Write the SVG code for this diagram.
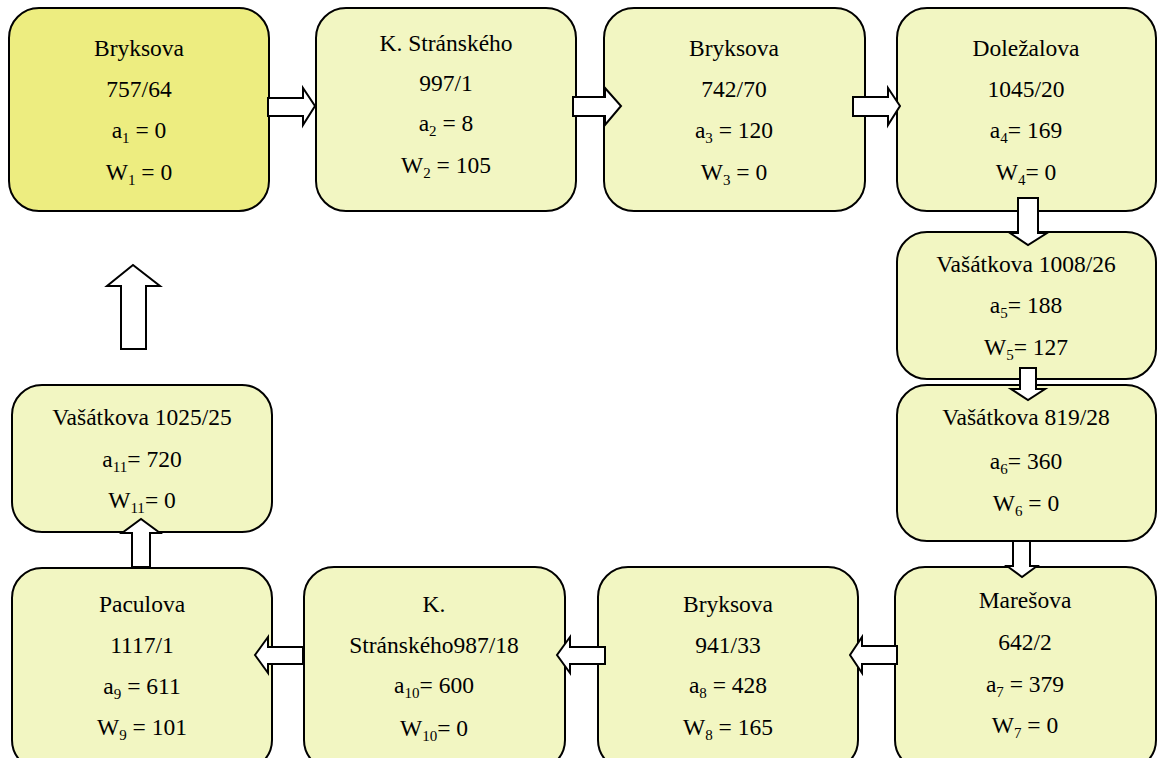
<svg xmlns="http://www.w3.org/2000/svg" width="1158" height="758" viewBox="0 0 1158 758">
  <style>
    .box { fill: #F2F6C2; stroke: #000; stroke-width: 2; }
    .box.start { fill: #EDED80; }
    .lbl { font-family: "Liberation Serif", "Times New Roman", serif; font-size: 23.5px; fill: #000; text-anchor: middle; }
    .sub { font-size: 15px; }
    .arrow { fill: #fff; stroke: #000; stroke-width: 2; stroke-linejoin: miter; }
  </style>
  <rect width="1158" height="758" fill="#fff"/>

  <g id="n1">
    <rect class="box start" x="9" y="8" width="260" height="203" rx="30"/>
    <text class="lbl" x="139" y="56">Bryksova</text>
    <text class="lbl" x="139" y="97">757/64</text>
    <text class="lbl" x="139" y="138">a<tspan class="sub" dy="5">1</tspan><tspan dy="-5"> = 0</tspan></text>
    <text class="lbl" x="139" y="180">W<tspan class="sub" dy="5">1</tspan><tspan dy="-5"> = 0</tspan></text>
  </g>

  <g id="n2">
    <rect class="box" x="316" y="8" width="260" height="203" rx="30"/>
    <text class="lbl" x="446" y="51">K. Stránského</text>
    <text class="lbl" x="446" y="91">997/1</text>
    <text class="lbl" x="446" y="131">a<tspan class="sub" dy="5">2</tspan><tspan dy="-5"> = 8</tspan></text>
    <text class="lbl" x="446" y="173">W<tspan class="sub" dy="5">2</tspan><tspan dy="-5"> = 105</tspan></text>
  </g>

  <g id="n3">
    <rect class="box" x="604" y="8" width="261" height="203" rx="30"/>
    <text class="lbl" x="734" y="56">Bryksova</text>
    <text class="lbl" x="734" y="97">742/70</text>
    <text class="lbl" x="734" y="138">a<tspan class="sub" dy="5">3</tspan><tspan dy="-5"> = 120</tspan></text>
    <text class="lbl" x="734" y="180">W<tspan class="sub" dy="5">3</tspan><tspan dy="-5"> = 0</tspan></text>
  </g>

  <g id="n4">
    <rect class="box" x="897" y="8" width="259" height="203" rx="30"/>
    <text class="lbl" x="1026" y="56">Doležalova</text>
    <text class="lbl" x="1026" y="97">1045/20</text>
    <text class="lbl" x="1026" y="138">a<tspan class="sub" dy="5">4</tspan><tspan dy="-5">= 169</tspan></text>
    <text class="lbl" x="1026" y="180">W<tspan class="sub" dy="5">4</tspan><tspan dy="-5">= 0</tspan></text>
  </g>

  <g id="n5">
    <rect class="box" x="897" y="232" width="259" height="147" rx="30"/>
    <text class="lbl" x="1026" y="272">Vašátkova 1008/26</text>
    <text class="lbl" x="1026" y="313">a<tspan class="sub" dy="5">5</tspan><tspan dy="-5">= 188</tspan></text>
    <text class="lbl" x="1026" y="355">W<tspan class="sub" dy="5">5</tspan><tspan dy="-5">= 127</tspan></text>
  </g>

  <g id="n6">
    <rect class="box" x="897" y="385" width="259" height="156" rx="30"/>
    <text class="lbl" x="1026" y="425">Vašátkova 819/28</text>
    <text class="lbl" x="1026" y="469">a<tspan class="sub" dy="5">6</tspan><tspan dy="-5">= 360</tspan></text>
    <text class="lbl" x="1026" y="511">W<tspan class="sub" dy="5">6</tspan><tspan dy="-5"> = 0</tspan></text>
  </g>

  <g id="n7">
    <rect class="box" x="895" y="567" width="261" height="203" rx="30"/>
    <text class="lbl" x="1025" y="608">Marešova</text>
    <text class="lbl" x="1025" y="650">642/2</text>
    <text class="lbl" x="1025" y="692">a<tspan class="sub" dy="5">7</tspan><tspan dy="-5"> = 379</tspan></text>
    <text class="lbl" x="1025" y="733">W<tspan class="sub" dy="5">7</tspan><tspan dy="-5"> = 0</tspan></text>
  </g>

  <g id="n8">
    <rect class="box" x="598" y="567" width="260" height="203" rx="30"/>
    <text class="lbl" x="728" y="612">Bryksova</text>
    <text class="lbl" x="728" y="653">941/33</text>
    <text class="lbl" x="728" y="693">a<tspan class="sub" dy="5">8</tspan><tspan dy="-5"> = 428</tspan></text>
    <text class="lbl" x="728" y="735">W<tspan class="sub" dy="5">8</tspan><tspan dy="-5"> = 165</tspan></text>
  </g>

  <g id="n10">
    <rect class="box" x="304" y="567" width="261" height="203" rx="30"/>
    <text class="lbl" x="434" y="612">K.</text>
    <text class="lbl" x="434" y="653">Stránského987/18</text>
    <text class="lbl" x="434" y="693">a<tspan class="sub" dy="5">10</tspan><tspan dy="-5">= 600</tspan></text>
    <text class="lbl" x="434" y="736">W<tspan class="sub" dy="5">10</tspan><tspan dy="-5">= 0</tspan></text>
  </g>

  <g id="n9">
    <rect class="box" x="12" y="568" width="260" height="202" rx="30"/>
    <text class="lbl" x="142" y="612">Paculova</text>
    <text class="lbl" x="142" y="653">1117/1</text>
    <text class="lbl" x="142" y="694">a<tspan class="sub" dy="5">9</tspan><tspan dy="-5"> = 611</tspan></text>
    <text class="lbl" x="142" y="735">W<tspan class="sub" dy="5">9</tspan><tspan dy="-5"> = 101</tspan></text>
  </g>

  <g id="n11">
    <rect class="box" x="12" y="385" width="260" height="147" rx="30"/>
    <text class="lbl" x="142" y="425">Vašátkova 1025/25</text>
    <text class="lbl" x="142" y="467">a<tspan class="sub" dy="5">11</tspan><tspan dy="-5">= 720</tspan></text>
    <text class="lbl" x="142" y="508">W<tspan class="sub" dy="5">11</tspan><tspan dy="-5">= 0</tspan></text>
  </g>

  <!-- block arrows between stops -->
  <g id="connectors">
    <!-- 1 -> 2 -->
    <polygon class="arrow" points="268,98 303,98 303,88 315,106 303,125 303,116 268,116"/>
    <!-- 2 -> 3 -->
    <polygon class="arrow" points="573,97 605,97 605,88 621,106 605,125 605,116 573,116"/>
    <!-- 3 -> 4 -->
    <polygon class="arrow" points="853,97 888,97 888,88 900,106 888,125 888,116 853,116"/>
    <!-- 4 -> 5 -->
    <polygon class="arrow" points="1018,198 1038,198 1038,233 1047,233 1028,245 1010,233 1018,233"/>
    <!-- 5 -> 6 -->
    <polygon class="arrow" points="1020,368 1036,368 1036,389 1045,389 1028,400 1011,389 1020,389"/>
    <!-- 6 -> 7 -->
    <polygon class="arrow" points="1013,541 1030,541 1030,566 1037,566 1022,577 1007,566 1013,566"/>
    <!-- 7 -> 8 -->
    <polygon class="arrow" points="897,646 862,646 862,637 850,655 862,673 862,664 897,664"/>
    <!-- 8 -> 10 -->
    <polygon class="arrow" points="605,647 570,647 570,637 557,655 570,673 570,664 605,664"/>
    <!-- 10 -> 9 -->
    <polygon class="arrow" points="303,647 268,647 268,637 255,655 268,673 268,664 303,664"/>
    <!-- 9 -> 11 -->
    <polygon class="arrow" points="132,567 132,533 122,533 141,519 160,533 150,533 150,567"/>
    <!-- 11 -> 1 -->
    <polygon class="arrow" points="121,349 121,286 107,286 133,265 160,286 146,286 146,349"/>
  </g>
</svg>
